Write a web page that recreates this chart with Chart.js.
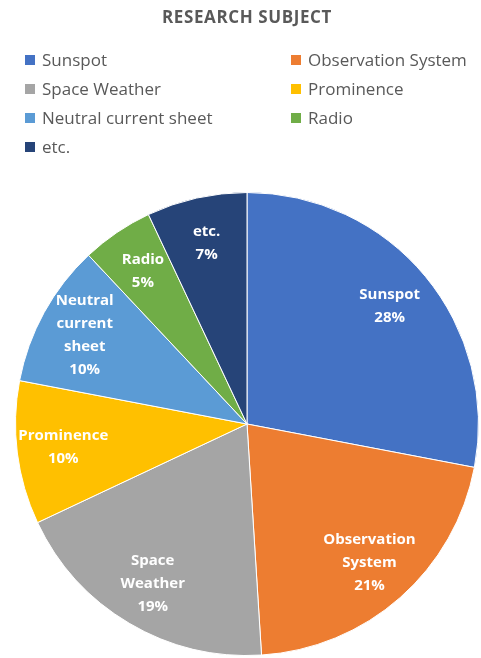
<!DOCTYPE html>
<html>
<head>
<meta charset="utf-8">
<script src="https://cdn.jsdelivr.net/npm/chart.js@4"></script>
<style>
  body { margin: 0; background: #fff; font-family: "Open Sans", sans-serif; }
  #wrap { position: relative; width: 481px; height: 658px; }
  #titulo { position: absolute; left: 0; width: 494px; top: 5px; text-align: center;
            font-size: 17px; font-weight: bold; color: #595959; letter-spacing: 0.6px; }
  #legenda { position: absolute; left: 25px; top: 47px; width: 456px; }
  .item { position: absolute; font-size: 17px; color: #595959; white-space: nowrap; line-height: 26px; }
  .item span { display: inline-block; width: 10px; height: 10px; margin-right: 7px; vertical-align: 1px; }
</style>
</head>
<body>
<div id="wrap">
  <div id="titulo">RESEARCH SUBJECT</div>
  <div id="legenda"></div>
  <canvas id="grafico-pizza" width="481" height="658"></canvas>
</div>
<script>
const categorias = ['Sunspot', 'Observation System', 'Space Weather', 'Prominence', 'Neutral current sheet', 'Radio', 'etc.'];
const rotulos = [['Sunspot'], ['Observation', 'System'], ['Space', 'Weather'], ['Prominence'], ['Neutral', 'current', 'sheet'], ['Radio'], ['etc.']];
const valores = [28, 21, 19, 10, 10, 5, 7];
const cores = ['#4472C4', '#ED7D31', '#A5A5A5', '#FFC000', '#5B9BD5', '#70AD47', '#264478'];

// legenda em duas colunas, montada a partir dos arrays
const legenda = document.getElementById('legenda');
categorias.forEach(function (nome, i) {
    const div = document.createElement('div');
    div.className = 'item';
    div.style.left = (i % 2 === 0 ? 0 : 266) + 'px';
    div.style.top = (Math.floor(i / 2) * 29) + 'px';
    div.innerHTML = '<span style="background:' + cores[i] + '"></span>' + nome;
    legenda.appendChild(div);
});

// escreve os rotulos dentro das fatias
const rotulosFatias = {
    id: 'rotulosFatias',
    afterDatasetsDraw(chart) {
        const ctx = chart.ctx;
        const total = valores.reduce((a, b) => a + b, 0);
        chart.getDatasetMeta(0).data.forEach(function (arc, i) {
            const meio = (arc.startAngle + arc.endAngle) / 2;
            const r = arc.outerRadius * 0.8;
            const x = arc.x + Math.cos(meio) * r;
            const y = arc.y + Math.sin(meio) * r;
            const linhas = rotulos[i].concat([Math.round(valores[i] / total * 100) + '%']);
            ctx.save();
            ctx.fillStyle = '#fff';
            ctx.font = 'bold 15px "Open Sans"';
            ctx.textAlign = 'center';
            ctx.textBaseline = 'middle';
            const alt = 23;
            linhas.forEach(function (l, k) {
                ctx.fillText(l, x, y + (k - (linhas.length - 1) / 2) * alt);
            });
            ctx.restore();
        });
    }
};

new Chart(document.getElementById('grafico-pizza'), {
    type: 'pie',
    data: {
        labels: categorias,
        datasets: [{
            data: valores,
            backgroundColor: cores,
            borderColor: '#fff',
            borderWidth: 1
        }]
    },
    options: {
        responsive: false,
        animation: false,
        layout: { padding: { top: 192, bottom: 2, left: 15, right: 2 } },
        plugins: {
            legend: { display: false },
            tooltip: { enabled: false }
        }
    },
    plugins: [rotulosFatias]
});
</script>
</body>
</html>
